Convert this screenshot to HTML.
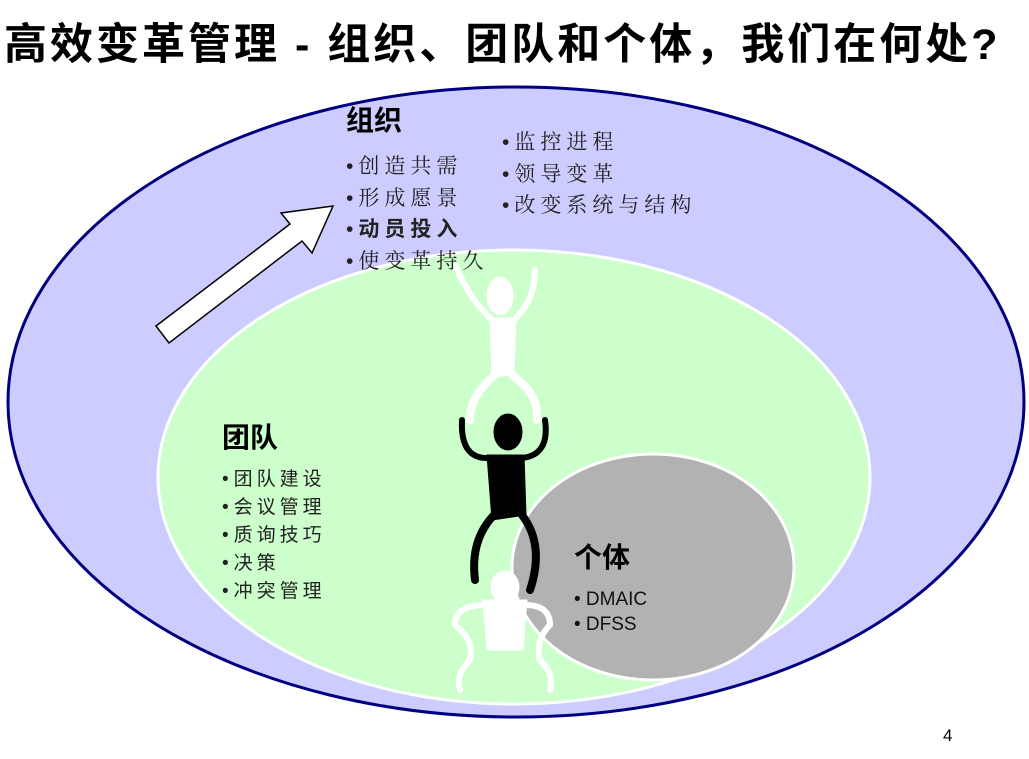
<!DOCTYPE html>
<html><head><meta charset="utf-8"><style>
body{margin:0;width:1029px;height:759px;background:#fff;overflow:hidden;position:relative;font-family:"Liberation Sans","Noto Sans CJK SC",sans-serif}
.t{position:absolute;white-space:nowrap}
.h{font-weight:bold;font-size:28px;color:#000}
.l{font-family:"Noto Serif CJK SC","Noto Sans CJK SC",serif;font-size:21px;color:#222;letter-spacing:5px;line-height:31.5px}
.l div,.m div{height:31.5px}
.m{font-family:"Noto Sans CJK SC",sans-serif;font-size:19px;color:#222;letter-spacing:4px}
.m div{height:28px;line-height:28px}
.b{font-family:"Liberation Sans",sans-serif;letter-spacing:0;margin-right:5px}
</style></head><body>
<div class="t" style="left:4px;top:10px;font-size:43px;font-weight:bold;letter-spacing:3px">高效变革管理 - 组织、团队和个体，我们在何处?</div>
<svg width="1029" height="759" style="position:absolute;left:0;top:0">
<ellipse cx="516" cy="402" rx="508" ry="315" fill="#ccccff" stroke="#000080" stroke-width="3"/>
<ellipse cx="514" cy="477" rx="356" ry="227" fill="#ccffcc" stroke="#fff" stroke-width="3"/>
<ellipse cx="653" cy="567" rx="141" ry="113" fill="#b2b2b2" stroke="#fff" stroke-width="3"/>
<polygon points="156,326 290,224 281,213 333,206 312,253 302,241 169,343" fill="#fff" stroke="#000" stroke-width="1.5"/>
<g fill="#fff" stroke="#fff" stroke-linecap="round" stroke-linejoin="round">
<ellipse cx="500" cy="296" rx="13" ry="19"/>
<path d="M490 318 L516 318 L514 375 L492 377 Z"/>
<path d="M492 320 Q470 300 455 265" fill="none" stroke-width="6"/>
<path d="M514 320 Q535 300 535 270" fill="none" stroke-width="6"/>
<path d="M495 375 Q470 395 470 420" fill="none" stroke-width="8"/>
<path d="M512 375 Q540 395 537 420" fill="none" stroke-width="8"/>
<ellipse cx="505" cy="587" rx="14" ry="16"/>
<path d="M483 600 L527 600 L523 650 L487 650 Z"/>
<path d="M485 605 Q455 605 455 625 Q475 640 470 660 Q455 675 460 690" fill="none" stroke-width="6"/>
<path d="M525 605 Q550 605 550 625 Q535 640 540 660 Q555 675 550 690" fill="none" stroke-width="6"/>
</g>
<g fill="#000" stroke="#000" stroke-linecap="round" stroke-linejoin="round">
<ellipse cx="508" cy="432" rx="14" ry="18"/>
<path d="M487 455 L524 455 L526 515 L492 520 Z"/>
<path d="M490 458 Q460 460 462 420" fill="none" stroke-width="6"/>
<path d="M522 458 Q550 455 545 420" fill="none" stroke-width="6"/>
<path d="M494 515 Q470 540 475 580" fill="none" stroke-width="8"/>
<path d="M522 515 Q545 545 530 590" fill="none" stroke-width="8"/>
</g>
</svg>
<div class="t h" style="left:346px;top:99px">组织</div>
<div class="t l" style="left:346px;top:150px"><div><span class="b">•</span>创造共需</div><div><span class="b">•</span>形成愿景</div><div><span class="b">•</span><b style="font-family:'Noto Sans CJK SC'">动员投入</b></div><div><span class="b">•</span>使变革持久</div></div>
<div class="t l" style="left:502px;top:126px"><div><span class="b">•</span>监控进程</div><div><span class="b">•</span>领导变革</div><div><span class="b">•</span>改变系统与结构</div></div>
<div class="t h" style="left:222px;top:416px">团队</div>
<div class="t m" style="left:222px;top:464px"><div><span class="b">•</span>团队建设</div><div><span class="b">•</span>会议管理</div><div><span class="b">•</span>质询技巧</div><div><span class="b">•</span>决策</div><div><span class="b">•</span>冲突管理</div></div>
<div class="t h" style="left:574px;top:536px">个体</div>
<div class="t" style="left:574px;top:587px;font-size:19px;line-height:25px;color:#111">• DMAIC<br>• DFSS</div>
<div class="t" style="left:943px;top:726px;font-size:17px">4</div>
</body></html>
